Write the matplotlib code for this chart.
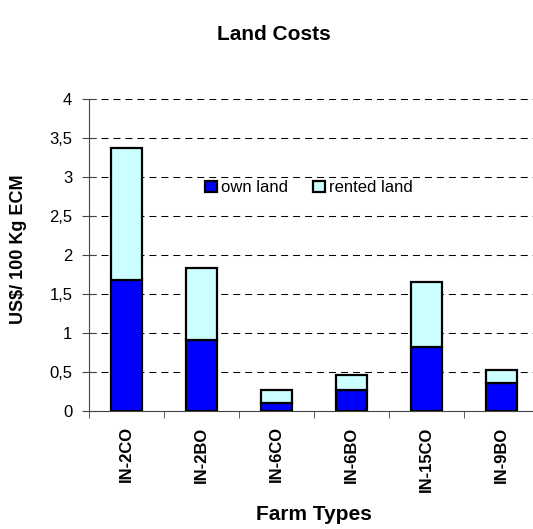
import matplotlib
matplotlib.use("Agg")
import matplotlib.pyplot as plt
from matplotlib.ticker import FixedLocator

plt.rcParams['font.family'] = ['Liberation Sans', 'DejaVu Sans']

categories = ["IN-2CO", "IN-2BO", "IN-6CO", "IN-6BO", "IN-15CO", "IN-9BO"]
own_land = [1.68, 0.91, 0.10, 0.27, 0.82, 0.355]
total = [3.37, 1.83, 0.27, 0.46, 1.66, 0.53]
rented_land = [t - o for t, o in zip(total, own_land)]
y_ticks = [0, 0.5, 1, 1.5, 2, 2.5, 3, 3.5, 4]
y_tick_labels = ["0", "0,5", "1", "1,5", "2", "2,5", "3", "3,5", "4"]

fig = plt.figure(figsize=(5.33, 5.29), dpi=100)
ax = fig.add_axes([89/533, 118/529, (533-89)/533, 312/529])

x = list(range(len(categories)))
ax.bar(x, own_land, width=0.41, color="#0000FF", edgecolor="black", linewidth=1.6,
       label="own land", zorder=3)
ax.bar(x, rented_land, bottom=own_land, width=0.41, color="#CCFFFF", edgecolor="black",
       linewidth=1.6, label="rented land", zorder=3)

ax.set_ylim(0, 4)
ax.set_xlim(-0.5, -0.5 + 444/75)
ax.set_yticks(y_ticks)
ax.set_yticklabels(y_tick_labels, fontsize=12)
for yv in y_ticks[1:]:
    ax.axhline(yv, color="black", linestyle=(0, (6.7, 4.8)), linewidth=0.75, zorder=1)

ax.set_xticks(x)
ax.set_xticklabels(categories, rotation=90, fontsize=12, fontweight="bold")
ax.tick_params(axis="x", length=0, pad=11)
ax.xaxis.set_minor_locator(FixedLocator([i - 0.5 for i in range(len(categories) + 1)]))
ax.tick_params(axis="x", which="minor", length=5, direction="out", color="#444444")
ax.tick_params(axis="y", length=10, direction="inout", color="#444444", pad=7)

for s in ["top", "right"]:
    ax.spines[s].set_visible(False)
ax.spines["left"].set_color("#444444")
ax.spines["bottom"].set_color("#444444")

ax.set_ylabel("US$/ 100 Kg ECM", fontsize=13, fontweight="bold")
ax.yaxis.set_label_coords(-0.14, 0.52)
ax.set_xlabel("Farm Types", fontsize=15, fontweight="bold")
ax.xaxis.set_label_coords(0.507, -0.302)
fig.text(274/533, 1 - 34/529, "Land Costs", ha="center", va="center",
         fontsize=15, fontweight="bold")

leg = ax.legend(loc="center left", bbox_to_anchor=(0.262, 0.715), ncol=2, frameon=False,
                fontsize=12, handlelength=0.7, handleheight=0.7, handletextpad=0.25,
                columnspacing=1.5, borderpad=0, borderaxespad=0)

fig.savefig("out.png", dpi=100)
